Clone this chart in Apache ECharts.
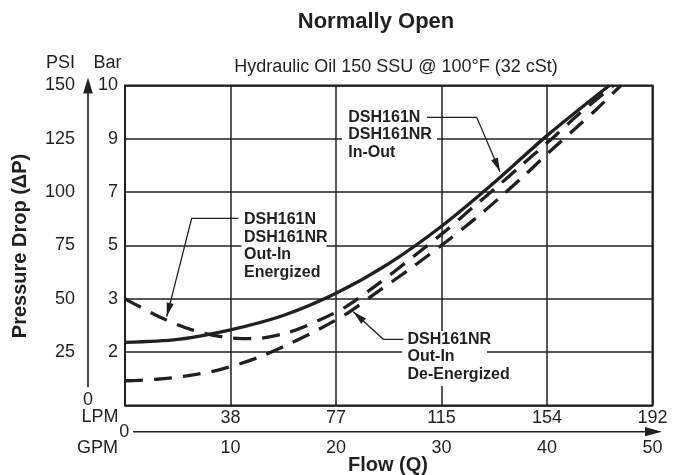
<!DOCTYPE html>
<html><head><meta charset="utf-8">
<script src="https://cdn.jsdelivr.net/npm/echarts@6/dist/echarts.min.js"></script>
<style>html,body{margin:0;padding:0;background:#fff}#c{width:683px;height:475px}</style>
</head><body><div id="c"></div>
<script>
// ---- data ----
const lpmLabels = ['', '38', '77', '115', '154', '192'];
const gpmLabels = ['', '10', '20', '30', '40', '50'];
const psiLabels = ['', '25', '50', '75', '100', '125', '150'];
const barLabels = ['', '2', '3', '5', '7', '9', '10'];

// [GPM, PSI]
const inOut = [[0,29.6],[5,31],[10,35.5],[15,42.2],[20,52.6],[25,66.5],[30,84],[35,104.5],[40,126.5],[45.9,150]];
const outInEnergized = [[0,50],[3.5,41],[6.5,35.2],[9.5,32],[12.2,31.3],[15.3,34],[18.2,39.5],[21,46.5],[24,57],[27,68.5],[30.3,81.5],[33,93],[35.2,102.3],[37.6,112.7],[40,123],[43,136.5],[46.3,150]];
const outInDeEnergized = [[0,11.6],[3,12.3],[6,14],[9,16.8],[12.5,22.3],[15.6,29],[18.3,35.5],[21,43],[24,53.5],[27,64],[30.5,77],[33.3,88],[35.6,97.8],[37.9,108],[40.1,118.3],[42.5,129],[44.7,138.9],[47,150]];

// ---- chart ----
const INK = '#231f20';
const FONT = '"Liberation Sans", Arial, Helvetica, sans-serif';
const chart = echarts.init(document.getElementById('c'), null, {renderer: 'canvas'});

function arrowHead(tip, from, len, hw) {
  const dx = tip[0] - from[0], dy = tip[1] - from[1];
  const L = Math.sqrt(dx*dx + dy*dy);
  const ux = dx / L, uy = dy / L;
  const bx = tip[0] - ux*len, by = tip[1] - uy*len;
  return [tip, [bx - uy*hw, by + ux*hw], [bx + uy*hw, by - ux*hw]];
}
function leader(points) {
  const n = points.length;
  const tip = points[n-1], from = points[n-2];
  return [
    {type: 'polyline', shape: {points: points}, style: {stroke: INK, lineWidth: 1.3, fill: null}, z: 20},
    {type: 'polygon', shape: {points: arrowHead(tip, from, 14, 3.6)}, style: {fill: INK}, z: 20}
  ];
}
function txt(x, y, s, size, weight, align, vAlign, extra) {
  return Object.assign({type: 'text', x: x, y: y, z: 25,
    style: {text: s, font: (weight||'normal') + ' ' + size + 'px ' + FONT, fill: INK,
      textAlign: align || 'center', textVerticalAlign: vAlign || 'middle'}}, extra || {});
}
function annText(x, y, s) {
  return {type: 'text', x: x, y: y, z: 25,
    style: {text: s, font: 'bold 16px ' + FONT, fill: INK, textAlign: 'left', textVerticalAlign: 'top', lineHeight: 17.5}};
}
function whiteBox(x, y, w, h) {
  return {type: 'rect', shape: {x: x, y: y, width: w, height: h}, style: {fill: '#fff'}, z: 15};
}

const seriesBase = {type: 'line', showSymbol: false, symbol: 'none', smooth: 0.3, z: 5, animation: false};

chart.setOption({
  animation: false,
  backgroundColor: '#fff',
  title: [
    {text: 'Normally Open', left: 371, top: 6, textAlign: 'center',
     textStyle: {fontSize: 22, fontWeight: 'bold', color: INK, fontFamily: FONT}},
    {text: 'Hydraulic Oil 150 SSU @ 100°F (32 cSt)', left: 391, top: 53, textAlign: 'center',
     textStyle: {fontSize: 18, fontWeight: 'normal', color: INK, fontFamily: FONT}}
  ],
  grid: {left: 125, right: 30.5, top: 85.5, bottom: 69.5, show: true, borderColor: INK, borderWidth: 2, backgroundColor: 'transparent'},
  xAxis: [
    {type: 'value', min: 0, max: 50, interval: 10, position: 'bottom',
     axisLine: {show: false}, axisTick: {show: false},
     splitLine: {show: true, lineStyle: {color: INK, width: 1.5}},
     axisLabel: {margin: 4, fontSize: 18, color: INK, fontFamily: FONT, formatter: (v) => lpmLabels[Math.round(v/10)]}},
    {type: 'value', min: 0, max: 50, interval: 10, position: 'bottom', offset: 26,
     axisLine: {show: false}, axisTick: {show: false}, splitLine: {show: false},
     axisLabel: {margin: 8, fontSize: 18, color: INK, fontFamily: FONT, formatter: (v) => gpmLabels[Math.round(v/10)]}}
  ],
  yAxis: [
    {type: 'value', min: 0, max: 150, interval: 25, position: 'left',
     axisLine: {show: false}, axisTick: {show: false},
     splitLine: {show: true, lineStyle: {color: INK, width: 1.5}},
     axisLabel: {margin: 50, fontSize: 18, color: INK, fontFamily: FONT, formatter: (v) => psiLabels[Math.round(v/25)]}},
    {type: 'value', min: 0, max: 150, interval: 25, position: 'left',
     axisLine: {show: false}, axisTick: {show: false}, splitLine: {show: false},
     axisLabel: {margin: 7, fontSize: 18, color: INK, fontFamily: FONT, formatter: (v) => barLabels[Math.round(v/25)]}}
  ],
  series: [
    Object.assign({}, seriesBase, {name: 'DSH161N/NR In-Out', data: inOut, lineStyle: {color: INK, width: 3.3}}),
    Object.assign({}, seriesBase, {name: 'DSH161N/NR Out-In Energized', data: outInEnergized, lineStyle: {color: INK, width: 3.3, type: [18, 11]}}),
    Object.assign({}, seriesBase, {name: 'DSH161NR Out-In De-Energized', data: outInDeEnergized, lineStyle: {color: INK, width: 3.3, type: [18, 11]}})
  ]
});

// axis decorations and annotations
const gfx = [];
gfx.push({type: 'line', shape: {x1: 88, y1: 387, x2: 88, y2: 90}, style: {stroke: INK, lineWidth: 1.6}, z: 20});
gfx.push({type: 'polygon', shape: {points: arrowHead([88, 77.5], [88, 95], 16, 4.8)}, style: {fill: INK}, z: 20});
gfx.push({type: 'line', shape: {x1: 133, y1: 431.7, x2: 650, y2: 431.7}, style: {stroke: INK, lineWidth: 1.6}, z: 20});
gfx.push({type: 'polygon', shape: {points: arrowHead([662, 431.7], [640, 431.7], 17, 4.6)}, style: {fill: INK}, z: 20});
gfx.push(txt(60.5, 63, 'PSI', 18));
gfx.push(txt(107.5, 63, 'Bar', 18));
gfx.push(txt(88, 400, '0', 18));
gfx.push(txt(100, 417.5, 'LPM', 18));
gfx.push(txt(97.5, 448.3, 'GPM', 18));
gfx.push(txt(124.2, 432, '0', 18));
gfx.push(txt(388, 465, 'Flow (Q)', 20, 'bold'));
gfx.push(txt(20.5, 246, 'Pressure Drop (ΔP)', 20, 'bold', 'center', 'middle', {rotation: Math.PI/2}));
gfx.push(whiteBox(342, 106, 95, 56));
gfx.push(annText(348.3, 108.5, 'DSH161N\nDSH161NR\nIn-Out'));
gfx.push(...leader([[427, 117.3], [476.7, 117.3], [500, 171.7]]));
gfx.push(whiteBox(241.5, 208, 85, 74));
gfx.push(annText(244, 211, 'DSH161N\nDSH161NR\nOut-In\nEnergized'));
gfx.push(...leader([[238.3, 218.3], [191.7, 218.3], [166.7, 316.7]]));
gfx.push(whiteBox(402, 331, 85, 55));
gfx.push(annText(407.5, 330.5, 'DSH161NR\nOut-In\nDe-Energized'));
gfx.push(...leader([[403.5, 339.3], [383.3, 339.3], [353.3, 311.7]]));

chart.setOption({graphic: {elements: gfx}});
</script>
</body></html>
